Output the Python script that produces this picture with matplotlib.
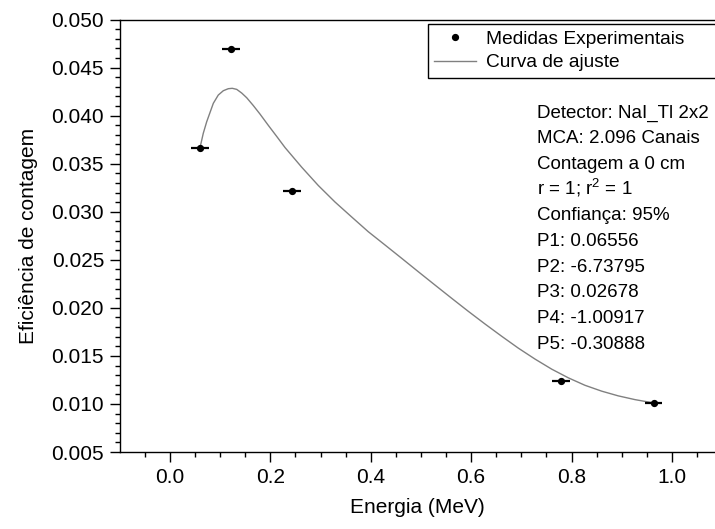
import matplotlib
matplotlib.use("Agg")
import matplotlib.pyplot as plt
from matplotlib.ticker import MultipleLocator, FormatStrFormatter
from matplotlib.lines import Line2D

plt.rcParams['font.family'] = ['Liberation Sans', 'DejaVu Sans']
plt.rcParams['mathtext.fontset'] = 'custom'
plt.rcParams['mathtext.rm'] = 'Liberation Sans'
plt.rcParams['mathtext.it'] = 'Liberation Sans'

# Measured points
energia = [0.0595, 0.1218, 0.2436, 0.7783, 0.9635]
eficiencia = [0.0366, 0.0469, 0.0322, 0.0124, 0.0101]
erro_energia = [0.0176, 0.0176, 0.0176, 0.0176, 0.0176]

# Fit curve
curva_x = [0.0595, 0.0663, 0.0731, 0.0797, 0.0863, 0.0962, 0.1062, 0.1161, 0.1241,
           0.1329, 0.1428, 0.1528, 0.1659, 0.1793, 0.1958, 0.2125, 0.2291, 0.2624,
           0.2954, 0.3287, 0.3620, 0.3950, 0.4283, 0.4616, 0.4946, 0.5279, 0.5612,
           0.5942, 0.6275, 0.6608, 0.6938, 0.7271, 0.7604, 0.7934, 0.8267, 0.8600,
           0.8930, 0.9263, 0.9596, 0.9635]
curva_y = [0.03660, 0.03816, 0.03936, 0.04032, 0.04128, 0.04214, 0.04259, 0.04280, 0.04284,
           0.04273, 0.04235, 0.04186, 0.04105, 0.04016, 0.03899, 0.03784, 0.03668, 0.03463,
           0.03273, 0.03101, 0.02945, 0.02792, 0.02654, 0.02515, 0.02376, 0.02237, 0.02099,
           0.01964, 0.01832, 0.01704, 0.01581, 0.01467, 0.01362, 0.01272, 0.01194, 0.01133,
           0.01084, 0.01045, 0.01014, 0.01010]

info_lines = ["Detector: NaI_Tl 2x2", "MCA: 2.096 Canais", "Contagem a 0 cm",
              r"r = 1; r$^2$ = 1", "Confiança: 95%", "P1: 0.06556", "P2: -6.73795",
              "P3: 0.02678", "P4: -1.00917", "P5: -0.30888"]

W, H = 715, 529
fig = plt.figure(figsize=(W / 100, H / 100), dpi=100)
ax = fig.add_axes([120 / W, 77 / H, 595 / W, 432.5 / H])

ax.plot(curva_x, curva_y, color='#808080', lw=1.0, zorder=2, solid_joinstyle='round')
ax.errorbar(energia, eficiencia, xerr=erro_energia, fmt='o', color='black',
            markersize=4.2, elinewidth=1.6, capsize=0, zorder=3)

ax.set_xlim(-0.0996, 1.0857)
ax.set_ylim(0.005, 0.050)
ax.xaxis.set_major_locator(MultipleLocator(0.2))
ax.xaxis.set_minor_locator(MultipleLocator(0.05))
ax.yaxis.set_major_locator(MultipleLocator(0.005))
ax.yaxis.set_minor_locator(MultipleLocator(0.001))
ax.xaxis.set_major_formatter(FormatStrFormatter('%.1f'))
ax.yaxis.set_major_formatter(FormatStrFormatter('%.3f'))
ax.tick_params(which='major', direction='out', length=7, width=1.0, labelsize=15, pad=4.5)
ax.tick_params(which='minor', direction='out', length=3.5, width=1.0)
ax.spines['right'].set_visible(False)
for s in ['left', 'bottom', 'top']:
    ax.spines[s].set_linewidth(1.0)

ax.set_xlabel('Energia (MeV)', fontsize=15, labelpad=8)
ax.set_ylabel('Eficiência de contagem', fontsize=15, labelpad=10)

handles = [Line2D([], [], marker='o', ls='none', color='black', markersize=4.2),
           Line2D([], [], color='#808080', lw=1.0)]
leg = ax.legend(handles, ['Medidas Experimentais', 'Curva de ajuste'],
                loc='upper left', bbox_to_anchor=(428 / W, 1 - 83 / H, 400 / W, 59 / H),
                bbox_transform=fig.transFigure, mode='expand', borderaxespad=0,
                fontsize=13.8, frameon=True, fancybox=False, edgecolor='black',
                framealpha=1, borderpad=0.33, labelspacing=0.33, handlelength=2.2,
                handletextpad=0.5)
leg.get_frame().set_linewidth(1.0)

y0 = 117.5
for i, line in enumerate(info_lines):
    fig.text(537 / W, 1 - (y0 + i * 25.7) / H, line, fontsize=13.5,
             ha='left', va='baseline')

fig.savefig('out.png', dpi=100)
